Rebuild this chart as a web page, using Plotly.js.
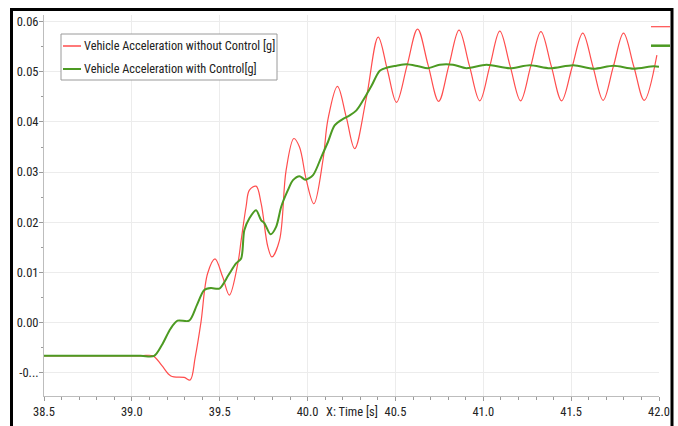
<!DOCTYPE html>
<html>
<head>
<meta charset="utf-8">
<script src="https://cdn.plot.ly/plotly-3.0.1.min.js"></script>
<style>html,body{margin:0;padding:0;background:#fff;}#chart{width:678px;height:426px;}</style>
</head>
<body>
<div id="chart"></div>
<script>
// Time [s] and acceleration [g]
const timeNoCtrl = [38.5, 38.8, 39.05, 39.12, 39.17, 39.222, 39.298, 39.332, 39.36, 39.393, 39.431, 39.473, 39.517, 39.555, 39.603, 39.622, 39.65, 39.669, 39.707, 39.736, 39.774, 39.797, 39.84, 39.878, 39.922, 39.954, 39.993, 40.036, 40.088, 40.116, 40.17, 40.22, 40.268, 40.335, 40.402, 40.454, 40.506, 40.566, 40.626, 40.686, 40.746, 40.804, 40.862, 40.921, 40.98, 41.037, 41.094, 41.153, 41.212, 41.27, 41.328, 41.387, 41.446, 41.506, 41.566, 41.624, 41.682, 41.74, 41.798, 41.857, 41.916, 41.988];
const accNoCtrl = [-0.0066, -0.0066, -0.0066, -0.0066, -0.0085, -0.0106, -0.0109, -0.0114, -0.007, 0.0, 0.0098, 0.0127, 0.0091, 0.0055, 0.0118, 0.0164, 0.0231, 0.0264, 0.0272, 0.0237, 0.0151, 0.0131, 0.0164, 0.0304, 0.0367, 0.035, 0.0284, 0.0237, 0.0325, 0.0405, 0.0471, 0.041, 0.0347, 0.0449, 0.0569, 0.0504, 0.0439, 0.0512, 0.0585, 0.0513, 0.0441, 0.0512, 0.0583, 0.0512, 0.0442, 0.0511, 0.0581, 0.0511, 0.0442, 0.0511, 0.058, 0.0511, 0.0442, 0.051, 0.0577, 0.051, 0.0443, 0.051, 0.0577, 0.051, 0.0443, 0.0533];

const timeCtrl = [38.5, 38.8, 39.05, 39.127, 39.17, 39.22, 39.26, 39.326, 39.37, 39.412, 39.45, 39.498, 39.55, 39.593, 39.622, 39.64, 39.669, 39.707, 39.736, 39.755, 39.789, 39.821, 39.85, 39.888, 39.917, 39.954, 39.987, 40.031, 40.078, 40.116, 40.154, 40.202, 40.24, 40.278, 40.316, 40.364, 40.411, 40.459, 40.506, 40.563, 40.63, 40.685, 40.752, 40.828, 40.904, 41.018, 41.151, 41.265, 41.38, 41.513, 41.627, 41.741, 41.855, 41.969, 42.0];
const accCtrl = [-0.0066, -0.0066, -0.0066, -0.0066, -0.0045, -0.0012, 0.0004, 0.0004, 0.0035, 0.0065, 0.0069, 0.0068, 0.0095, 0.0118, 0.0128, 0.0184, 0.0208, 0.0224, 0.0204, 0.0198, 0.0176, 0.0191, 0.0231, 0.0264, 0.0284, 0.0292, 0.0285, 0.0294, 0.033, 0.036, 0.0393, 0.0406, 0.0413, 0.0423, 0.0443, 0.0472, 0.0502, 0.0509, 0.0512, 0.0515, 0.0511, 0.0507, 0.0514, 0.0514, 0.0507, 0.0514, 0.0507, 0.0513, 0.0507, 0.0513, 0.0506, 0.0512, 0.0506, 0.0511, 0.051];

const seriesNames = ["Vehicle Acceleration without Control [g]", "Vehicle Acceleration with Control[g]"];
const seriesColors = ["#ff4d4d", "#4c9a22"];
const xTickVals = [38.5, 39.0, 39.5, 40.0, 40.5, 41.0, 41.5, 42.0];
const xTickText = ["38.5", "39.0", "39.5", "40.0", "40.5", "41.0", "41.5", "42.0"];
const yTickVals = [-0.01, 0.0, 0.01, 0.02, 0.03, 0.04, 0.05, 0.06];
const yTickText = ["-0...", "0.00", "0.01", "0.02", "0.03", "0.04", "0.05", "0.06"];
const xTitle = "X: Time [s]";

const FONT = "Roboto Condensed, Liberation Sans, sans-serif";

const traces = [
  {x: timeNoCtrl, y: accNoCtrl, name: seriesNames[0], mode: "lines",
   line: {color: seriesColors[0], width: 1.2, shape: "spline", smoothing: 1}},
  {x: timeCtrl, y: accCtrl, name: seriesNames[1], mode: "lines",
   line: {color: seriesColors[1], width: 2, shape: "spline", smoothing: 0.8}}
];

const axisCommon = {
  showline: true, linecolor: "#bdbdbd", linewidth: 1,
  ticks: "outside", ticklen: 4, tickcolor: "#9a9a9a", tickwidth: 1,
  showgrid: true, gridcolor: "#ececec", gridwidth: 1,
  zeroline: false,
  tickfont: {family: FONT, size: 12.5, color: "#222"}
};

// pixel -> paper helpers for decorations (plot area 44..659 x, 15..396 y)
const px = v => (v - 44) / 615;
const py = v => (396 - v) / 381;

const layout = {
  width: 678, height: 426,
  margin: {l: 44, r: 19, t: 15, b: 30},
  paper_bgcolor: "#fff", plot_bgcolor: "#fff",
  showlegend: false,
  xaxis: Object.assign({}, axisCommon, {
    range: [38.5, 42.0], tickmode: "array", tickvals: xTickVals, ticktext: xTickText,
    minor: {dtick: 0.1, ticks: "outside", ticklen: 3, tickcolor: "#9a9a9a", showgrid: false}
  }),
  yaxis: Object.assign({}, axisCommon, {
    range: [-0.0146, 0.0613], tickmode: "array", tickvals: yTickVals, ticktext: yTickText,
    ticklabelstandoff: -2,
    minor: {dtick: 0.005, tick0: 0, ticks: "outside", ticklen: 2, tickcolor: "#9a9a9a", showgrid: false}
  }),
  annotations: [
    {text: xTitle, xref: "paper", yref: "paper", x: px(352), y: py(411), xanchor: "center", yanchor: "middle",
     showarrow: false, font: {family: FONT, size: 12.5, color: "#222"}},
    {text: seriesNames[0], xref: "paper", yref: "paper", x: px(82), y: py(46), xanchor: "left", yanchor: "middle",
     showarrow: false, font: {family: FONT, size: 12.3, color: "#222"}},
    {text: seriesNames[1], xref: "paper", yref: "paper", x: px(82), y: py(69), xanchor: "left", yanchor: "middle",
     showarrow: false, font: {family: FONT, size: 12.3, color: "#222"}}
  ],
  shapes: [
    {type: "rect", xref: "paper", yref: "paper", x0: px(61), x1: px(277), y0: py(80), y1: py(34),
     line: {color: "#9a9a9a", width: 1}, fillcolor: "#fff", layer: "above"},
    {type: "line", xref: "paper", yref: "paper", x0: px(63), x1: px(81), y0: py(46), y1: py(46),
     line: {color: seriesColors[0], width: 1.5}, layer: "above"},
    {type: "line", xref: "paper", yref: "paper", x0: px(63), x1: px(81), y0: py(69), y1: py(69),
     line: {color: seriesColors[1], width: 2}, layer: "above"},
    {type: "rect", xref: "paper", yref: "paper", x0: px(11.5), x1: px(672), y0: py(440), y1: py(9.5),
     line: {color: "#000", width: 3}, fillcolor: "rgba(0,0,0,0)", layer: "above"},
    {type: "line", xref: "paper", yref: "paper", x0: px(651), x1: px(670), y0: py(26.7), y1: py(26.7),
     line: {color: seriesColors[0], width: 1.2}},
    {type: "line", xref: "paper", yref: "paper", x0: px(651), x1: px(670), y0: py(45.7), y1: py(45.7),
     line: {color: seriesColors[1], width: 2.5}}
  ]
};

Plotly.newPlot("chart", traces, layout, {displayModeBar: false, staticPlot: true});
</script>
</body>
</html>
